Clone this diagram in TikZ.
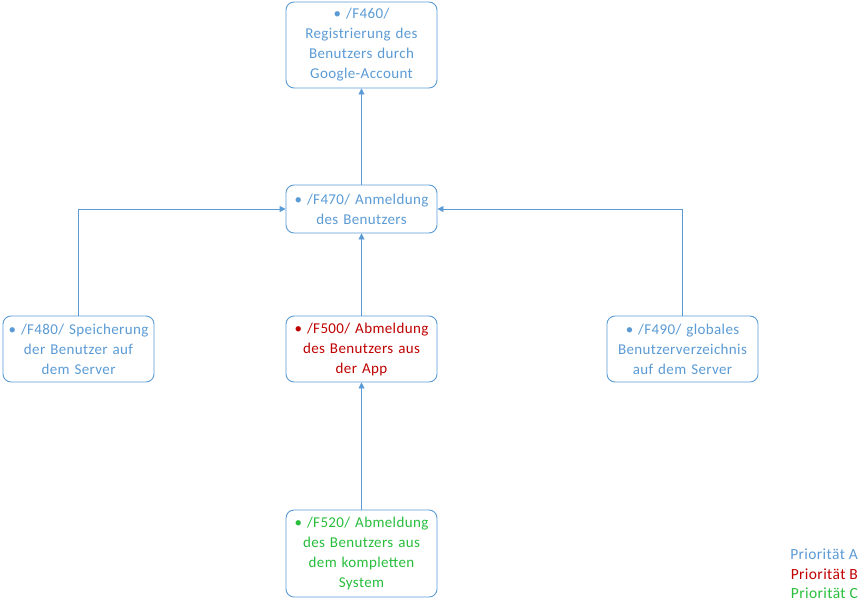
\documentclass[tikz,border=0pt]{standalone}
\usepackage{fontspec}
\setmainfont{Carlito}[LetterSpace=2.5]
\usetikzlibrary{arrows.meta}
\definecolor{prioA}{RGB}{91,155,213}
\definecolor{prioB}{RGB}{192,0,0}
\definecolor{prioC}{RGB}{40,190,60}
\definecolor{frame}{RGB}{91,155,213}
\tikzset{
  x=1pt, y=-1pt,
  req/.style={draw=frame, line width=0.9pt, rounded corners=8pt, fill=white,
    minimum width=151pt, text width=148pt, align=center, inner sep=1.5pt,
    font=\fontsize{15}{20}\selectfont},
  link/.style={draw=frame, line width=0.9pt, -{Triangle[length=6pt,width=6pt]}},
  legend/.style={anchor=east, inner sep=0pt, font=\fontsize{15.5}{20}\selectfont}
}
\begin{document}
\begin{tikzpicture}
\useasboundingbox (0,0) rectangle (866,611);

\node[req, minimum height=86pt, text=prioA] (f460) at (361.5,45)
  {• /F460/\\Registrierung des\\Benutzers durch\\Google-Account};
\node[req, minimum height=48pt, text=prioA] (f470) at (361.5,209)
  {• /F470/ Anmeldung\\des Benutzers};
\node[req, minimum height=66pt, text=prioA] (f480) at (78.5,349)
  {• /F480/ Speicherung\\der Benutzer auf\\dem Server};
\node[req, minimum height=66pt, text=prioB] (f500) at (361.5,349)
  {• /F500/ Abmeldung\\des Benutzers aus\\der App};
\node[req, minimum height=66pt, text=prioA] (f490) at (682.5,349)
  {• /F490/ globales\\Benutzerverzeichnis\\auf dem Server};
\node[req, minimum height=87pt, text=prioC] (f520) at (361.5,553.5)
  {• /F520/ Abmeldung\\des Benutzers aus\\dem kompletten\\System};

\draw[link] (f470) -- (f460);
\draw[link] (f480.north) |- (f470.west);
\draw[link] (f490.north) |- (f470.east);
\draw[link] (f500) -- (f470);
\draw[link] (f520) -- (f500);

\node[legend, text=prioA] (la) at (858,554) {Priorität A};
\node[legend, text=prioB] (lb) at (858,574) {Priorität B};
\node[legend, text=prioC] (lc) at (858,593) {Priorität C};
\end{tikzpicture}
\end{document}
